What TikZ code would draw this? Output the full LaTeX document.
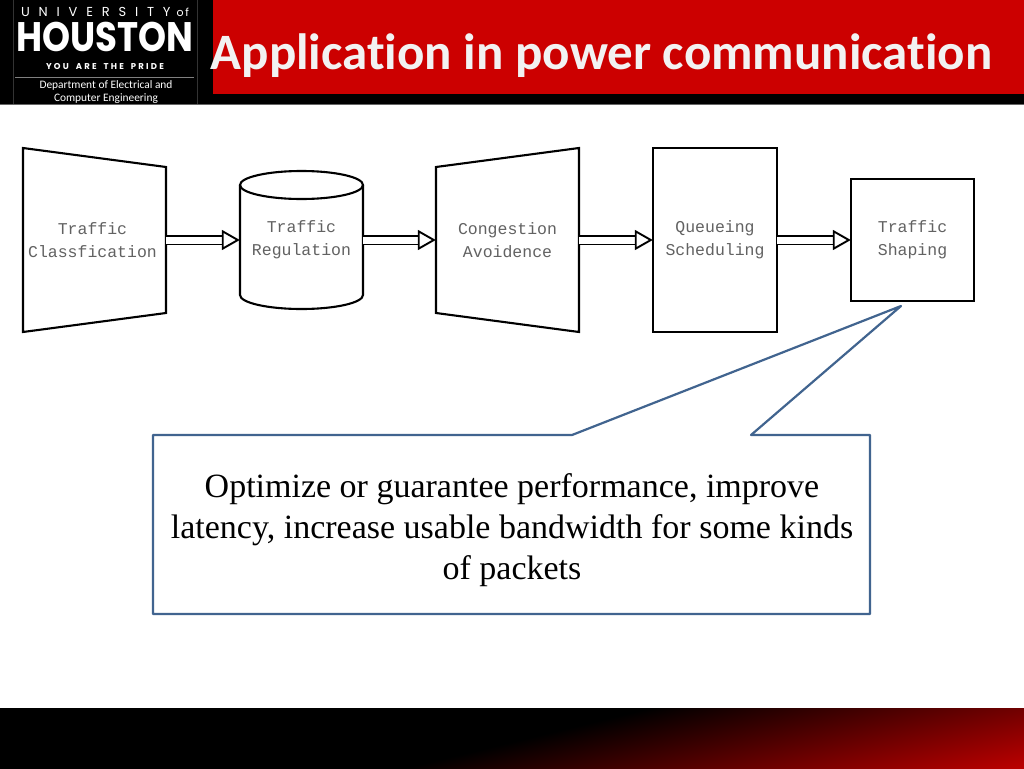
\documentclass[tikz,border=0pt]{standalone}
\usepackage{fontspec}
\setmainfont{Liberation Serif}
\newfontfamily\titlefont[Ligatures=NoCommon]{Carlito}
\newfontfamily\logofont{Poppins}
\newfontfamily\monofont{Liberation Mono}
\usetikzlibrary{arrows.meta, calc}

\definecolor{slideRed}{HTML}{CC0000}
\definecolor{calloutColor}{HTML}{41648F}
\definecolor{labelColor}{HTML}{626262}

\tikzset{
    stage/.style={minimum height=#1, inner sep=0pt, align=center, text=labelColor,
        font=\monofont\fontsize{16.5}{23}\selectfont},
    stage/.default={146pt},
    outline/.style={line width=2.1pt, line join=miter},
    flow/.style={double, double distance=7pt, line width=1.9pt,
        -{Triangle[open, fill=white, length=18pt, width=20pt, line width=1.9pt]}},
    logotext/.style={text=white, inner sep=0pt}
}

\begin{document}
\begin{tikzpicture}[x=1pt, y=-1pt]

    % Page
    \useasboundingbox (0,0) rectangle (1024,768);
    \fill[white] (0,0) rectangle (1024,768);

    % 1. Header band
    \fill[black] (0,0) rectangle (1024,104);
    \fill[slideRed] (213,0) rectangle (1024,94);
    \draw[black!60, line width=0.5pt] (0,104.5) -- (1024,104.5);
    \node[text=white!95!black, inner sep=0pt, font=\titlefont\bfseries\fontsize{51}{54}\selectfont] (title) at (601.5,56) {Application in power communication};

    % Logo
    \draw[black!80!white, line width=0.3pt] (13,0) -- (13,104) (197,0) -- (197,104);
    \node[logotext, font=\logofont\fontsize{13}{14}\selectfont] (university) at (105,12) {\addfontfeature{LetterSpace=68}UNIVERSITY\addfontfeature{LetterSpace=15}\hspace{6pt}{\fontsize{11}{12}\selectfont of}};
    \node[logotext, yscale=1.25, xscale=1.08, font=\logofont\bfseries\fontsize{33}{38}\selectfont] (houston) at (105,37) {HOUSTON};
    \node[logotext, font=\logofont\bfseries\fontsize{8.5}{10}\selectfont] (pride) at (105,66.5) {\addfontfeature{LetterSpace=26}YOU\hspace{7pt}ARE\hspace{7pt}THE\hspace{7pt}PRIDE};
    \draw[black!50!white, line width=0.6pt] (15,77.5) -- (194,77.5);
    \node[logotext, align=center, font=\titlefont\fontsize{11.4}{13}\selectfont] (department) at (106,92) {Department of Electrical and\\Computer Engineering};

    % 2. Stages
    \node[stage, minimum width=147pt] (classify) at (92.5,240) {Traffic\\Classfication};
    \node[stage, minimum width=123pt] (regulate) at (301.5,240) {Traffic\\Regulation};
    \node[stage, minimum width=143pt] (avoid) at (507.5,240) {Congestion\\Avoidence};
    \node[stage=184pt, minimum width=124pt] (queue) at (715,240) {Queueing\\Scheduling};
    \node[stage=122pt, minimum width=123pt] (shape) at (912.5,240) {Traffic\\Shaping};

    % Trapezoids
    \draw[outline] (23,148) -- (166,167) -- (166,313) -- (23,332) -- cycle;
    \draw[outline] (436,167) -- (579,148) -- (579,332) -- (436,313) -- cycle;

    % Cylinder
    \draw[outline] (240,185) -- (240,295) arc[start angle=180, end angle=0, x radius=61.5, y radius=14] -- (363,185);
    \draw[outline] (301.5,185) ellipse[x radius=61.5, y radius=14];

    % Boxes
    \draw[outline] (queue.north west) rectangle (queue.south east);
    \draw[outline] (shape.north west) rectangle (shape.south east);

    % 3. Arrows
    \draw[flow] (classify.east) -- (regulate.west);
    \draw[flow] (regulate.east) -- (avoid.west);
    \draw[flow] (avoid.east) -- (queue.west);
    \draw[flow] (queue.east) -- (shape.west);

    % 4. Callout
    \coordinate (pointer) at (901,306);
    \node[align=center, inner sep=0pt, font=\fontsize{34}{41}\selectfont] (note) at (512,530) {Optimize or guarantee performance, improve\\latency, increase usable bandwidth for some kinds\\of packets};
    \draw[calloutColor, line width=2.2pt, line join=round] (153,435) -- (572,435) -- (pointer) -- (751,435) -- (870,435) -- (870,614) -- (153,614) -- cycle;

    % 5. Footer
    \fill[black] (0,708) rectangle (1024,768);
    \begin{scope}
        \clip (0,708) rectangle (1024,768);
        \begin{scope}[transform canvas={shift={(405,768)}, rotate=13.76}]
            \shade[top color=black, bottom color=red!75!black, middle color=black] (-1000,-150) rectangle (1000,150);
        \end{scope}
    \end{scope}

\end{tikzpicture}
\end{document}
